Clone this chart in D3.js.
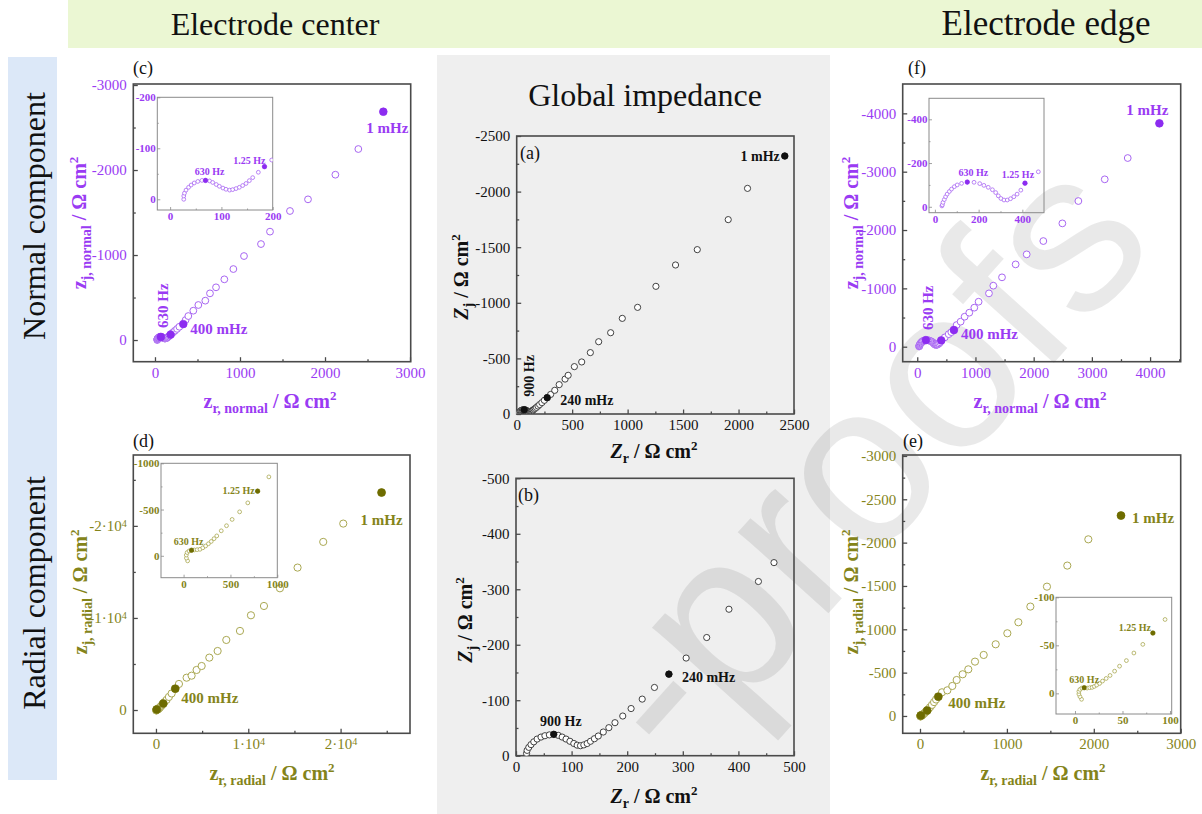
<!DOCTYPE html>
<html><head><meta charset="utf-8">
<script src="https://cdn.jsdelivr.net/npm/d3@7/dist/d3.min.js"></script>
<style>html,body{margin:0;padding:0;background:#fff;}svg{display:block;}</style>
</head><body>
<svg id="fig" width="1202" height="814"></svg>
<script>
// ---------------- DATA ----------------
const headerTitles = ["Electrode center", "Electrode edge"];
const rowTitles = ["Normal component", "Radial component"];
const centerTitle = "Global impedance";
const panelLetters = ["(a)", "(b)", "(c)", "(d)", "(e)", "(f)"];
const watermarkText = "-proofs";

// Global impedance: [Zr, -Zj] in Ω cm²
const globalZ = [[19,4.2],[20,9.6],[23,15],[27,20],[32,25],[38,30],[45,33.6],[52,36],[60,37.5],[68,38.5],[76,36.7],[83,33.6],[90,30],[97,26],[104,22],[110,19],[116,18],[122,19.5],[128,22],[134,26],[141,30.6],[148,35.5],[157,42.7],[167,50.5],[178,59.5],[192,71.5],[207,85],[227,102],[249,123],[275,147],[306,176],[343,213],[383,264],[436,314],[464,348],[520,426],[586,468],[664,552],[739,650],[847,731],[952,860],[1090,959],[1255,1148],[1432,1340],[1628,1478],[1907,1748],[2081,2029],[2417,2320]];
const globalMarks = [[68,38.5],[275,147],[2417,2320]];
const globalMarkLabels = ["900 Hz","240 mHz","1 mHz"];

// Electrode center, normal component: [zr, -zj]
const centerNormalZ = [[26.6,0],[26.6,6.5],[28,12],[31,18],[36,23.5],[41,28],[47,32],[54,35],[62,37],[69,37],[77,36],[83,33],[90,29],[96,25.5],[103,22],[109,19.6],[116,18],[122,19],[128.6,21],[135,23.5],[141.5,27],[148,31],[154.5,36.6],[161,42.5],[172,53],[184,64],[198,77],[215,92],[236,110],[260,131],[287,156],[333,188],[360,235],[392,282],[451,345],[510,412],[592,463],[647,549],[718,620],[816,714],[922,835],[1047,988],[1247,1129],[1353,1275],[1588,1518],[1800,1655],[2122,1945],[2392,2247],[2686,2686]];
const centerNormalMarks = [[69,37],[184,64],[333,188],[2686,2686]];
const centerNormalMarkLabels = ["630 Hz","1.25 Hz","400 mHz","1 mHz"];

// Electrode center, radial component
const centerRadialZ = [[43,-55],[30,-25],[29,8],[38,35],[58,52],[85,60],[115,63],[145,66],[175,70],[205,86],[235,106],[265,130],[295,155],[325,185],[354,215],[402,270],[458,325],[518,393],[598,475],[685,572],[790,699],[910,853],[1150,1100],[1400,1420],[1700,1800],[2090,2320],[2490,2830],[3320,3510],[3860,3730],[4400,4350],[4950,4780],[5780,5690],[6680,6410],[7620,7610],[9100,8590],[10290,10290],[11700,11300],[13430,13220],[15340,15470],[18120,18260],[20290,20250],[24440,23620]];
const centerRadialMarks = [[85,60],[790,699],[2090,2320],[24440,23620]];
const centerRadialMarkLabels = ["630 Hz","1.25 Hz","400 mHz","1 mHz"];

// Electrode edge, normal component
const edgeNormalZ = [[32,4],[34,9],[37,20],[43,33],[49,46],[56,58],[66,70],[76,81],[89,92],[102,100],[122,107],[148,113],[179,112],[205,106],[224,98],[244,89],[263,78],[278,65],[290,50],[302,38],[316,31],[331,31],[346,37],[361,46],[376,58],[393,76],[412,108],[473,160],[540,215],[585,250],[630,286],[676,371],[745,429],[814,514],[894,583],[980,669],[1054,771],[1232,914],[1307,1046],[1456,1189],[1690,1411],[1880,1583],[2166,1811],[2493,2114],[2768,2497],[3221,2869],[3616,3234],[4160,3829]];
const edgeNormalMarks = [[148,113],[412,108],[630,286],[4160,3829]];
const edgeNormalMarkLabels = ["630 Hz","1.25 Hz","400 mHz","1 mHz"];

// Electrode edge, radial component
const edgeRadialZ = [[6.9,-6.2],[5.2,-3.4],[4.1,-0.7],[4.1,2],[5.2,4.1],[7.2,5.5],[9.7,5.9],[12.8,5.5],[15.5,5.9],[18,6.2],[20.3,7.2],[22.8,8.6],[25.9,10.3],[29,12.8],[32.8,15.5],[36.9,18.6],[41.7,23.1],[46.9,28.3],[54.1,34.1],[62,42],[71.4,51],[82,62.8],[94.8,76.9],[115,100],[138,128],[162,160],[185,190],[211,223],[253,273],[315,296],[372,346],[422,415],[491,481],[556,538],[633,627],[733,704],[871,827],[1005,954],[1132,1081],[1270,1262],[1461,1492],[1695,1735],[1937,2038],[2313,2312]];
const edgeRadialMarks = [[9.7,5.9],[82,62.8],[211,223],[2313,2312]];
const edgeRadialMarkLabels = ["630 Hz","1.25 Hz","400 mHz","1 mHz"];

// tick values
const ticksA = [0,500,1000,1500,2000,2500], minorA = [250,750,1250,1750,2250];
const ticksB = [0,100,200,300,400,500], minorB = [50,150,250,350,450];
const ticksC = [0,1000,2000,3000], minorC = [500,1500,2500];
const ticksCi = [0,100,200], minorCi = [50,150];
const ticksD = [0,10000,20000], minorD = [5000,15000,25000];
const ticksDi = [0,500,1000], minorDi = [250,750];
const ticksFx = [0,1000,2000,3000,4000], minorFx = [500,1500,2500,3500,4500];
const ticksFy = [0,1000,2000,3000,4000], minorFy = [500,1500,2500,3500];
const ticksFi = [0,200,400], minorFi = [100,300];
const ticksEx = [0,1000,2000,3000], minorEx = [500,1500,2500];
const ticksEy = [0,500,1000,1500,2000,2500,3000], minorEy = [250,750,1250,1750,2250,2750];
const ticksEi = [0,50,100], minorEi = [25,75];

// ---------------- DRAWING ----------------
const SERIF = "'Liberation Serif','Times New Roman',Times,serif";
const SANS = "'Liberation Sans',Arial,sans-serif";
const svg = d3.select("#fig");
const defs = svg.append("defs");
let clipN = 0;

const PURPLE = {tc:"#9a3bf3", open:"#a866f2", fill:"#8c2cf0"};
const OLIVE  = {tc:"#84841a", open:"#aaa852", fill:"#6e6c00"};
const BLACK  = {tc:"#111111", open:"#2e2e2e", fill:"#111111"};

// backgrounds
svg.append("rect").attr("x",68).attr("y",0).attr("width",1134).attr("height",48).attr("fill","#ebf7d3");
svg.append("rect").attr("x",8).attr("y",57).attr("width",49).attr("height",723).attr("fill","#dce8f8");
svg.append("rect").attr("x",437).attr("y",55).attr("width",393).attr("height",759).attr("fill","#efefef");

// watermark
svg.append("text")
  .attr("transform","translate(1160,245) rotate(-48)")
  .attr("text-anchor","end").attr("font-family",SANS).attr("font-size",230)
  .attr("fill","#000").attr("fill-opacity",0.085).text(watermarkText);

// headings
svg.append("text").attr("x",275).attr("y",35).attr("text-anchor","middle").attr("font-family",SERIF).attr("font-size",32).attr("fill","#111").text(headerTitles[0]);
svg.append("text").attr("x",1046).attr("y",35).attr("text-anchor","middle").attr("font-family",SERIF).attr("font-size",35).attr("fill","#111").text(headerTitles[1]);
svg.append("text").attr("x",645).attr("y",106).attr("text-anchor","middle").attr("font-family",SERIF).attr("font-size",32).attr("fill","#111").text(centerTitle);
svg.append("text").attr("transform","translate(45,216) rotate(-90)").attr("text-anchor","middle").attr("font-family",SERIF).attr("font-size",32).attr("fill","#111").text(rowTitles[0]);
svg.append("text").attr("transform","translate(45,593) rotate(-90)").attr("text-anchor","middle").attr("font-family",SERIF).attr("font-size",32).attr("fill","#111").text(rowTitles[1]);

function sciText(sel, neg) {
  sel.each(function(d){
    const t = d3.select(this);
    if (d === 0) { t.text("0"); return; }
    t.text(null);
    t.append("tspan").text((neg?"-":"") + (d/10000) + "·10");
    t.append("tspan").attr("dy","-0.45em").attr("font-size","0.68em").text("4");
  });
}

function panel(p) {
  const [x0,y0,x1,y1] = p.box;
  const x = d3.scaleLinear().domain(p.xd).range([x0,x1]);
  const y = d3.scaleLinear().domain(p.yd).range([y1,y0]);
  const id = "clip" + (clipN++);
  defs.append("clipPath").attr("id",id).append("rect").attr("x",x0).attr("y",y0).attr("width",x1-x0).attr("height",y1-y0);
  const g = svg.append("g");

  const style = (ga) => {
    ga.select(".domain").remove();
    ga.selectAll(".tick line").attr("stroke",p.frame).attr("stroke-width",p.fw*0.8);
    ga.selectAll(".tick text").attr("fill",p.col.tc).attr("font-family",SERIF)
      .attr("font-size",p.tfs).attr("font-weight",p.tfw);
  };
  style(g.append("g").attr("transform",`translate(0,${y1})`)
    .call(d3.axisBottom(x).tickValues(p.xm).tickSize(-p.mn).tickFormat("")));
  style(g.append("g").attr("transform",`translate(${x0},0)`)
    .call(d3.axisLeft(y).tickValues(p.ym).tickSize(-p.mn).tickFormat("")));
  const gx = g.append("g").attr("transform",`translate(0,${y1})`)
    .call(d3.axisBottom(x).tickValues(p.xt).tickSize(-p.ml).tickPadding(p.xpad).tickFormat(d=>String(d)));
  style(gx);
  const gy = g.append("g").attr("transform",`translate(${x0},0)`)
    .call(d3.axisLeft(y).tickValues(p.yt).tickSize(-p.ml).tickPadding(p.ypad).tickFormat(d=> d===0 ? "0" : "-"+d));
  style(gy);
  if (p.sci) {
    sciText(gx.selectAll(".tick text"), false);
    sciText(gy.selectAll(".tick text"), true);
  }
  g.append("rect").attr("x",x0).attr("y",y0).attr("width",x1-x0).attr("height",y1-y0)
    .attr("fill","none").attr("stroke",p.frame).attr("stroke-width",p.fw);
  const pg = g.append("g").attr("clip-path",`url(#${id})`);
  pg.append("g").selectAll("circle").data(p.data).join("circle")
    .attr("cx",d=>x(d[0])).attr("cy",d=>y(d[1])).attr("r",p.r)
    .attr("fill",p.openFill).attr("stroke",p.col.open).attr("stroke-width",p.sw);
  pg.append("g").selectAll("circle").data(p.marks).join("circle")
    .attr("cx",d=>x(d[0])).attr("cy",d=>y(d[1])).attr("r",p.rf)
    .attr("fill",p.col.fill).attr("stroke",p.col.fill).attr("stroke-width",0.5);
  (p.labels||[]).forEach(l => {
    const m = p.marks[l.i];
    const px = x(m[0]) + l.dx, py = y(m[1]) + l.dy;
    g.append("text").attr("transform",`translate(${px},${py})` + (l.rot?` rotate(${l.rot})`:""))
      .attr("text-anchor",l.a).attr("font-family",SERIF).attr("font-weight","bold")
      .attr("font-size",p.lfs).attr("fill",p.col.tc).text(p.markLabels[l.i]);
  });
  return {x,y};
}

const mainStyle = {frame:"#4a4a4a", fw:1.6, tfs:15, tfw:"normal", ml:4.5, mn:2.5, xpad:5.3, ypad:6.5, sw:1, openFill:"#ffffff", lfs:15};
const insetStyle = {frame:"#8a8a8a", fw:1, tfs:11, tfw:"bold", ml:3, mn:1.5, xpad:2.2, ypad:1.5, r:1.9, rf:2.3, sw:0.8, openFill:"#ffffff", lfs:10};

// (a) global impedance
panel(Object.assign({}, mainStyle, {col:BLACK, box:[516.7,136,794,414], xd:[0,2500], yd:[0,2500],
  xt:ticksA, xm:minorA, yt:ticksA, ym:minorA, data:globalZ, marks:globalMarks, markLabels:globalMarkLabels,
  r:3.1, rf:3.3, sw:0.9, lfs:14,
  labels:[{i:0,dx:10,dy:-13,a:"start",rot:-90},{i:1,dx:13,dy:7,a:"start"},{i:2,dx:-5,dy:5,a:"end"}]}));
// (b) global zoom
panel(Object.assign({}, mainStyle, {col:BLACK, box:[516,478.3,794,755.7], xd:[0,500], yd:[0,500],
  xt:ticksB, xm:minorB, yt:ticksB, ym:minorB, data:globalZ, marks:globalMarks, markLabels:globalMarkLabels,
  r:3.1, rf:3.3, sw:0.9, lfs:14,
  labels:[{i:0,dx:7,dy:-8,a:"middle"},{i:1,dx:13,dy:8,a:"start"}]}));

// (c) center normal
panel(Object.assign({}, mainStyle, {col:PURPLE, box:[133.3,84,410.7,361.7], xd:[-255,3008], yd:[-255,3012],
  xt:ticksC, xm:minorC, yt:ticksC, ym:minorC, data:centerNormalZ, marks:centerNormalMarks, markLabels:centerNormalMarkLabels,
  r:3.4, rf:3.9,
  labels:[{i:0,dx:7,dy:-9,a:"start",rot:-90},{i:2,dx:7,dy:10,a:"start"},{i:3,dx:4,dy:21,a:"middle"}]}));
panel(Object.assign({}, insetStyle, {col:PURPLE, box:[157.3,97.3,272.7,210], xd:[-25,200], yd:[-21,200],
  xt:ticksCi, xm:minorCi, yt:ticksCi, ym:minorCi, data:centerNormalZ, marks:centerNormalMarks, markLabels:centerNormalMarkLabels,
  labels:[{i:0,dx:4,dy:-5,a:"middle"},{i:1,dx:1,dy:-3,a:"end"}]}));

// (d) center radial
panel(Object.assign({}, mainStyle, {col:OLIVE, box:[133.3,455,410,733.3], xd:[-2455,27520], yd:[-2530,27700],
  xt:ticksD, xm:minorD, yt:ticksD, ym:minorD, sci:true, data:centerRadialZ, marks:centerRadialMarks, markLabels:centerRadialMarkLabels,
  r:3.6, rf:4,
  labels:[{i:2,dx:6,dy:14,a:"start"},{i:3,dx:0,dy:32,a:"middle"}]}));
panel(Object.assign({}, insetStyle, {col:OLIVE, box:[161,463.3,277.3,577.7], xd:[-241,1000], yd:[-237,1000],
  xt:ticksDi, xm:minorDi, yt:ticksDi, ym:minorDi, data:centerRadialZ, marks:centerRadialMarks, markLabels:centerRadialMarkLabels,
  labels:[{i:0,dx:-3,dy:-5,a:"middle"},{i:1,dx:-3,dy:3,a:"end"}]}));

// (f) edge normal
panel(Object.assign({}, mainStyle, {col:PURPLE, box:[902.7,84,1180.7,361.7], xd:[-250,4526], yd:[-257,4503],
  xt:ticksFx, xm:minorFx, yt:ticksFy, ym:minorFy, data:edgeNormalZ, marks:edgeNormalMarks, markLabels:edgeNormalMarkLabels,
  r:3.4, rf:3.9,
  labels:[{i:0,dx:7,dy:-10,a:"start",rot:-90},{i:2,dx:7,dy:9,a:"start"},{i:3,dx:-12,dy:-8,a:"middle"}]}));
panel(Object.assign({}, insetStyle, {col:PURPLE, box:[929,98.3,1044,212.7], xd:[-27,499], yd:[-27,496],
  xt:ticksFi, xm:minorFi, yt:ticksFi, ym:minorFi, data:edgeNormalZ, marks:edgeNormalMarks, markLabels:edgeNormalMarkLabels,
  labels:[{i:0,dx:6,dy:-6,a:"middle"},{i:1,dx:-7,dy:-5,a:"middle"}]}));

// (e) edge radial
panel(Object.assign({}, mainStyle, {col:OLIVE, box:[902.7,455,1180.7,733.3], xd:[-199,3000], yd:[-200,3011],
  xt:ticksEx, xm:minorEx, yt:ticksEy, ym:minorEy, data:edgeRadialZ, marks:edgeRadialMarks, markLabels:edgeRadialMarkLabels,
  r:3.6, rf:4,
  labels:[{i:2,dx:10,dy:11,a:"start"},{i:3,dx:11,dy:7,a:"start"}]}));
panel(Object.assign({}, insetStyle, {col:OLIVE, box:[1056,597.3,1171.7,714], xd:[-20,101.8], yd:[-21.5,100],
  xt:ticksEi, xm:minorEi, yt:ticksEi, ym:minorEi, data:edgeRadialZ, marks:edgeRadialMarks, markLabels:edgeRadialMarkLabels,
  labels:[{i:0,dx:0,dy:-5,a:"middle"},{i:1,dx:-2,dy:-2,a:"end"}]}));

// panel letters
const letterPos = [[520,159,18],[518,501,18],[133,74,18],[133,447,18],[903,447,18],[908,74,18]];
panelLetters.forEach((s,i) => {
  svg.append("text").attr("x",letterPos[i][0]).attr("y",letterPos[i][1]).attr("font-family",SERIF)
    .attr("font-size",letterPos[i][2]).attr("fill","#111").text(s);
});

// axis titles
function richTitle(x, y, rot, parts, color) {
  const t = svg.append("text").attr("transform", `translate(${x},${y})` + (rot ? ` rotate(${rot})` : ""))
    .attr("text-anchor","middle").attr("font-family",SERIF).attr("font-weight","bold").attr("fill",color);
  let cur = 0;
  parts.forEach(([s, kind, italic]) => {
    const off = kind === "sub" ? 5 : kind === "sup" ? -8 : 0;
    const fs = kind === "sub" ? 14 : kind === "sup" ? 13 : 20;
    t.append("tspan").attr("dy", off - cur).attr("font-size", fs).attr("font-style", italic ? "italic" : null).text(s);
    cur = off;
  });
}
const unitParts = [[" / Ω cm"],["2","sup"]];
richTitle(86,223,-90,[["z"],["j, normal","sub"],...unitParts],PURPLE.tc);
richTitle(270,408,0,[["z"],["r, normal","sub"],...unitParts],PURPLE.tc);
richTitle(87,592,-90,[["z"],["j, radial","sub"],...unitParts],OLIVE.tc);
richTitle(272,780,0,[["z"],["r, radial","sub"],...unitParts],OLIVE.tc);
richTitle(858,223,-90,[["z"],["j, normal","sub"],...unitParts],PURPLE.tc);
richTitle(1040,408,0,[["z"],["r, normal","sub"],...unitParts],PURPLE.tc);
richTitle(858,592,-90,[["z"],["j, radial","sub"],...unitParts],OLIVE.tc);
richTitle(1043,780,0,[["z"],["r, radial","sub"],...unitParts],OLIVE.tc);
richTitle(468,277,-90,[["Z","",true],["j","sub"],...unitParts],"#111");
richTitle(654,458,0,[["Z","",true],["r","sub"],...unitParts],"#111");
richTitle(472,620,-90,[["Z","",true],["j","sub"],...unitParts],"#111");
richTitle(654,803,0,[["Z","",true],["r","sub"],...unitParts],"#111");
</script>
</body></html>
